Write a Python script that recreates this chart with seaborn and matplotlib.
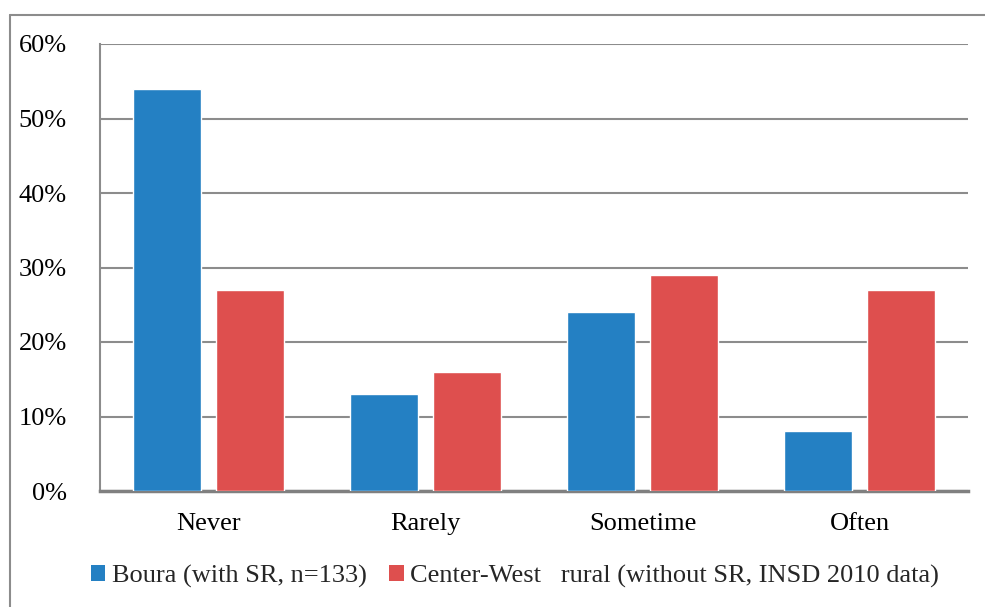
import matplotlib
matplotlib.use("Agg")
import matplotlib.pyplot as plt
import seaborn as sns
import pandas as pd
from matplotlib.lines import Line2D
from matplotlib.patches import Patch
from matplotlib.ticker import FuncFormatter

categories = ["Never", "Rarely", "Sometime", "Often"]
series_names = ["Boura (with SR, n=133)", "Center-West   rural (without SR, INSD 2010 data)"]
boura = [54, 13, 24, 8]
center_west = [27, 16, 29, 27]
colors = ["#2480C3", "#DE4F4E"]

df = pd.DataFrame({
    "category": categories * 2,
    "value": boura + center_west,
    "series": [series_names[0]] * 4 + [series_names[1]] * 4,
})

sns.set_theme(style="white")
plt.rcParams["font.family"] = ["Liberation Serif", "DejaVu Serif"]

FS = 19

fig = plt.figure(figsize=(9.85, 6.07), dpi=100)
ax = fig.add_axes([100 / 985, 1 - 491 / 607, 868 / 985, 447 / 607])

sns.barplot(data=df, x="category", y="value", hue="series", order=categories,
            hue_order=series_names, palette=colors, width=0.76, gap=0.18,
            saturation=1, ax=ax, legend=False, zorder=3)

ax.set_ylim(0, 60)
ax.set_xlim(-0.5, 3.5)
ax.set_yticks(range(0, 61, 10))
ax.yaxis.set_major_formatter(FuncFormatter(lambda v, p: f"{int(v)}%"))
ax.grid(axis="y", color="#8c8c8c", linewidth=1.5, zorder=0)
ax.set_axisbelow(True)
ax.set_xlabel("")
ax.set_ylabel("")
for s in ["top", "right"]:
    ax.spines[s].set_visible(False)
ax.spines["left"].set_color("#8c8c8c")
ax.spines["left"].set_linewidth(1.5)
ax.spines["bottom"].set_color("#808080")
ax.spines["bottom"].set_linewidth(2.5)
ax.tick_params(axis="y", length=0, pad=24, labelsize=FS, labelcolor="black")
ax.tick_params(axis="x", length=0, pad=16, labelsize=FS, labelcolor="black")

handles = [Patch(facecolor=c, edgecolor="none") for c in colors]
fig.legend(handles, series_names, loc="center", bbox_to_anchor=(515 / 985, 1 - 576 / 607),
           ncol=2, frameon=False, fontsize=FS, handlelength=0.55, handleheight=0.55,
           handletextpad=0.25, columnspacing=0.85, borderpad=0, borderaxespad=0)

fx0 = 10 / 985
fy0 = 1 - 15 / 607
fig.add_artist(Line2D([fx0, fx0], [0, fy0], transform=fig.transFigure, color="#8c8c8c", linewidth=1.5))
fig.add_artist(Line2D([fx0, 1], [fy0, fy0], transform=fig.transFigure, color="#8c8c8c", linewidth=1.5))

fig.savefig("out.png", dpi=100)
